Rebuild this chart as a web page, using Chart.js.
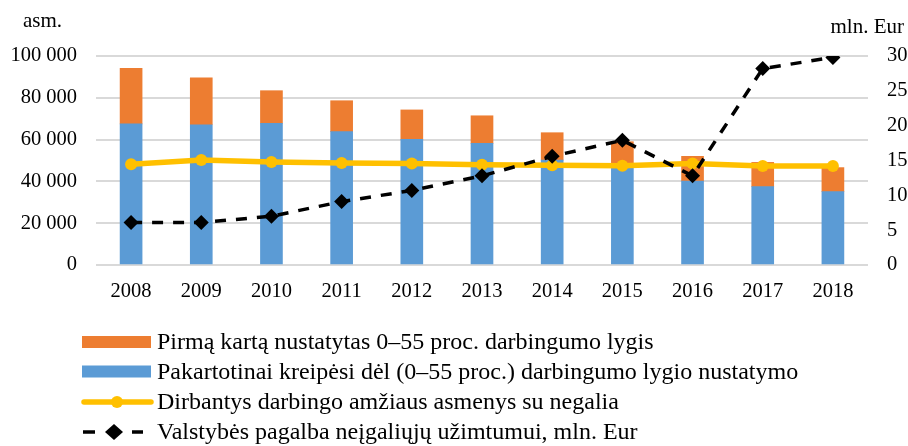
<!DOCTYPE html>
<html><head><meta charset="utf-8">
<script src="https://cdn.jsdelivr.net/npm/chart.js@4"></script>
<style>html,body{margin:0;padding:0;background:#fff}canvas{display:block}</style>
</head><body>
<canvas id="c" width="908" height="446"></canvas>
<script>
const years = ['2008','2009','2010','2011','2012','2013','2014','2015','2016','2017','2018'];
const firstTimeLevel = [26600, 22400, 15600, 14800, 14100, 13200, 13100, 11000, 11800, 11600, 11500];
const repeatedRequests = [67500, 67100, 67800, 63800, 60100, 58200, 50200, 48000, 40200, 37500, 35100];
const employedDisabled = [48200, 50200, 49300, 48800, 48600, 48000, 47700, 47500, 48600, 47400, 47400];
const stateAidMlnEur = [6.1, 6.1, 7.0, 9.1, 10.7, 12.8, 15.6, 17.9, 12.8, 28.2, 29.8];
const labelsSeries = [
  'Pirmą kartą nustatytas 0–55 proc. darbingumo lygis',
  'Pakartotinai kreipėsi dėl (0–55 proc.) darbingumo lygio nustatymo',
  'Dirbantys darbingo amžiaus asmenys su negalia',
  'Valstybės pagalba neįgaliųjų užimtumui, mln. Eur'
];
const leftUnit = 'asm.';
const rightUnit = 'mln. Eur';

const ORANGE = '#ED7D31', BLUE = '#5B9BD5', YELLOW = '#FFC000', BLACK = '#000000';
const FONT = "'Liberation Serif', 'Times New Roman', serif";

function fmt(v){ return String(v).replace(/\B(?=(\d{3})+(?!\d))/g, ' '); }

const extras = {
  id: 'extras',
  afterDraw(chart) {
    const ctx = chart.ctx;
    ctx.save();
    ctx.fillStyle = '#000';
    ctx.textBaseline = 'middle';
    ctx.font = '21px ' + FONT;
    ctx.textAlign = 'left';
    ctx.fillText(leftUnit, 23, 21);
    ctx.textAlign = 'right';
    ctx.fillText(rightUnit, 904, 27);

    // legend
    const x0 = 82, x1 = 152, tx = 157;
    const rows = [342, 371.5, 402, 432];
    ctx.font = '24px ' + FONT;
    ctx.textAlign = 'left';
    ctx.fillStyle = ORANGE; ctx.fillRect(x0, rows[0]-6, x1-x0-1, 12);
    ctx.fillStyle = BLUE; ctx.fillRect(x0, rows[1]-6, x1-x0-1, 12);
    ctx.strokeStyle = YELLOW; ctx.lineWidth = 5.5; ctx.lineCap = 'round';
    ctx.beginPath(); ctx.moveTo(x0+2, rows[2]); ctx.lineTo(x1-1, rows[2]); ctx.stroke();
    ctx.fillStyle = YELLOW; ctx.beginPath(); ctx.arc(117, rows[2], 6, 0, Math.PI*2); ctx.fill();
    ctx.strokeStyle = BLACK; ctx.lineWidth = 3.5; ctx.lineCap = 'butt';
    ctx.beginPath(); ctx.moveTo(83, rows[3]); ctx.lineTo(95, rows[3]);
    ctx.moveTo(132, rows[3]); ctx.lineTo(143, rows[3]); ctx.stroke();
    ctx.fillStyle = BLACK; ctx.beginPath();
    ctx.moveTo(114, rows[3]-8); ctx.lineTo(123, rows[3]); ctx.lineTo(114, rows[3]+8); ctx.lineTo(105, rows[3]); ctx.closePath(); ctx.fill();
    ctx.fillStyle = '#000';
    labelsSeries.forEach((t, i) => ctx.fillText(t, tx, rows[i] + 1));
    ctx.restore();
  }
};

new Chart(document.getElementById('c'), {
  data: {
    labels: years,
    datasets: [
      { type: 'line', label: labelsSeries[3], data: stateAidMlnEur, yAxisID: 'y1', order: 0,
        borderColor: BLACK, backgroundColor: BLACK, borderWidth: 3.5, borderDash: [11, 10],
        pointStyle: 'rectRot', pointRadius: 7.5, pointBorderWidth: 0, pointBackgroundColor: BLACK, tension: 0 },
      { type: 'line', label: labelsSeries[2], data: employedDisabled, yAxisID: 'y', order: 1,
        borderColor: YELLOW, backgroundColor: YELLOW, borderWidth: 5.5,
        pointRadius: 6, pointBorderWidth: 0, pointBackgroundColor: YELLOW, tension: 0 },
      { type: 'bar', label: labelsSeries[1], data: repeatedRequests, yAxisID: 'y', order: 2,
        backgroundColor: BLUE, stack: 's', barThickness: 22 },
      { type: 'bar', label: labelsSeries[0], data: firstTimeLevel, yAxisID: 'y', order: 3,
        backgroundColor: ORANGE, stack: 's', barThickness: 22 }
    ]
  },
  options: {
    responsive: false,
    animation: false,
    layout: { padding: { top: 56, left: 0, right: 0, bottom: 0 } },
    plugins: { legend: { display: false }, tooltip: { enabled: false } },
    scales: {
      x: {
        stacked: true,
        grid: { display: false, drawTicks: false },
        border: { display: false },
        ticks: { color: '#000', font: { family: FONT, size: 20.5 }, padding: 14, maxRotation: 0 },
        afterFit(s) { s.height = 181; }
      },
      y: {
        position: 'left', stacked: true, min: 0, max: 100000,
        grid: { color: '#D9D9D9', lineWidth: 2, drawTicks: false },
        border: { display: false },
        ticks: { stepSize: 20000, color: '#000', font: { family: FONT, size: 20.5 }, padding: 19, callback: v => fmt(v) },
        afterFit(s) { s.width = 96; }
      },
      y1: {
        position: 'right', min: 0, max: 30,
        grid: { display: false, drawTicks: false },
        border: { display: false },
        ticks: { stepSize: 5, color: '#000', font: { family: FONT, size: 20.5 }, padding: 19 },
        afterFit(s) { s.width = 40; }
      }
    }
  },
  plugins: [extras]
});
</script>
</body></html>
